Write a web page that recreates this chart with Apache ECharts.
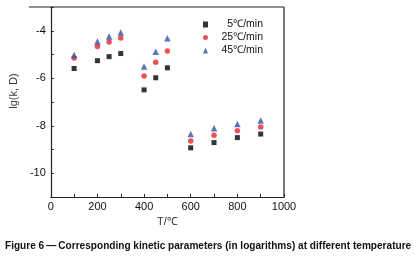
<!DOCTYPE html>
<html><head><meta charset="utf-8">
<script src="https://cdn.jsdelivr.net/npm/echarts@6/dist/echarts.min.js"></script>
<style>html,body{margin:0;padding:0;background:#fff}#c{width:416px;height:260px}</style>
</head><body><div id="c"></div>
<script>
const temps = [100, 200, 250, 300, 400, 450, 500, 600, 700, 800, 900];
const rate5 = [-5.59, -5.26, -5.09, -4.96, -6.49, -5.98, -5.56, -8.93, -8.71, -8.50, -8.35];
const rate25 = [-5.15, -4.66, -4.47, -4.31, -5.90, -5.33, -4.85, -8.64, -8.40, -8.21, -8.05];
const rate45 = [-5.02, -4.45, -4.24, -4.07, -5.50, -4.88, -4.32, -8.35, -8.11, -7.93, -7.78];
const seriesNames = ['5℃/min', '25℃/min', '45℃/min'];
const xTicks = [0, 200, 400, 600, 800, 1000];
const yTicks = [-4, -6, -8, -10];
const caption = 'Figure 6\u2009\u2014\u2009Corresponding kinetic parameters (in logarithms) at different temperature';

const font = 'Liberation Sans, Arial, sans-serif';
const toPairs = v => temps.map((t, i) => [t, v[i]]);
const chart = echarts.init(document.getElementById('c'), null, {renderer: 'canvas'});
chart.setOption({
  animation: false,
  backgroundColor: '#fff',
  grid: {left: 29, top: 7, width: 255, height: 190, containLabel: false},
  legend: {
    orient: 'vertical', left: 203, top: 19, itemGap: 2, itemWidth: 5, itemHeight: 6, padding: 0,
    data: [
      {name: seriesNames[0], icon: 'rect'},
      {name: seriesNames[1], icon: 'circle'},
      {name: seriesNames[2], icon: 'triangle'}
    ],
    formatter: n => '{a|' + n + '}',
    textStyle: {fontFamily: font, fontSize: 10.5, color: '#111', rich: {a: {width: 50, lineHeight: 12, align: 'right', fontFamily: font, fontSize: 10.5, color: '#111'}}}
  },
  xAxis: {
    type: 'value', min: 0, max: 1000, interval: 100,
    name: 'T/℃', nameLocation: 'middle', nameGap: 19,
    nameTextStyle: {fontFamily: font, fontSize: 11, color: '#333'},
    axisLine: {show: true, lineStyle: {color: '#222', width: 1.2}},
    axisTick: {inside: true, length: 3, lineStyle: {color: '#222'}},
    axisLabel: {fontFamily: font, fontSize: 11, color: '#111', margin: 4,
      formatter: v => xTicks.includes(v) ? String(v) : ''},
    splitLine: {show: false}
  },
  yAxis: {
    type: 'value', min: -11, max: -3, interval: 1,
    name: 'lg(k, D)', nameLocation: 'middle', nameGap: 16,
    nameTextStyle: {fontFamily: font, fontSize: 11, color: '#333', padding: [0, 0, 0, 22]},
    axisLine: {show: true, lineStyle: {color: '#222', width: 1.2}},
    axisTick: {inside: true, length: 3, lineStyle: {color: '#222'}},
    axisLabel: {fontFamily: font, fontSize: 11, color: '#111', margin: 5,
      formatter: v => yTicks.includes(v) ? String(v) : ''},
    splitLine: {show: false}
  },
  series: [
    {name: seriesNames[0], type: 'scatter', symbol: 'rect', symbolSize: 5, itemStyle: {color: '#000'}, data: toPairs(rate5)},
    {name: seriesNames[1], type: 'scatter', symbol: 'circle', symbolSize: 5.5, itemStyle: {color: '#e8262a'}, data: toPairs(rate25)},
    {name: seriesNames[2], type: 'scatter', symbol: 'triangle', symbolSize: 6.5, itemStyle: {color: '#3550a8'}, data: toPairs(rate45)}
  ],
  graphic: [
    {type: 'line', shape: {x1: 29, y1: 7, x2: 284, y2: 7}, style: {stroke: '#222', lineWidth: 1.2}},
    {type: 'line', shape: {x1: 284, y1: 7, x2: 284, y2: 197}, style: {stroke: '#222', lineWidth: 1.2}},
    {type: 'text', x: 5, y: 241, scaleX: 0.96, style: {text: caption, font: 'bold 10.5px ' + font, fill: '#111'}}
  ]
});
</script></body></html>
